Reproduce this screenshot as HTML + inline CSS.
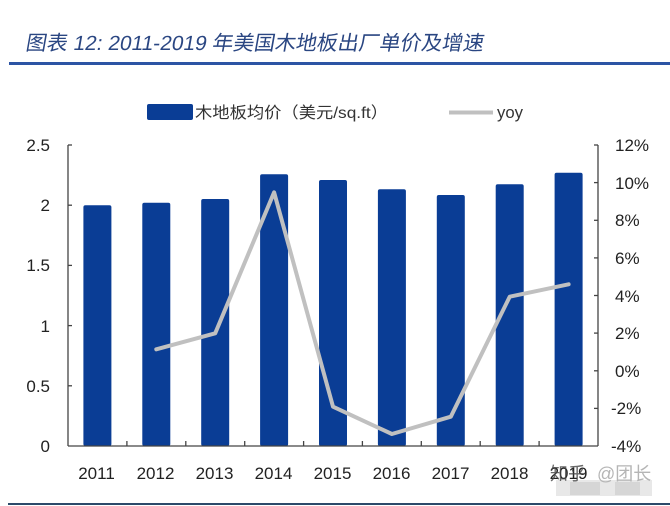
<!DOCTYPE html>
<html>
<head>
<meta charset="utf-8">
<style>
  html, body { margin: 0; padding: 0; background: #ffffff; }
  body { width: 670px; height: 506px; overflow: hidden; }
  svg { display: block; }
  .tk { font-family: "Liberation Sans", "DejaVu Sans", sans-serif; font-size: 17px; fill: #222; }
</style>
</head>
<body>
<svg width="670" height="506" viewBox="0 0 670 506" xmlns="http://www.w3.org/2000/svg">
  <rect x="0" y="0" width="670" height="506" fill="#ffffff"/>

  <!-- Title -->
  <g transform="translate(25,50) skewX(-10)">
    <text x="0" y="0" font-family="Liberation Sans, 'Noto Sans CJK SC', sans-serif" font-size="20.5" fill="#2a4682" textLength="458" lengthAdjust="spacingAndGlyphs">图表 12:  2011-2019 年美国木地板出厂单价及增速</text>
  </g>
  <rect x="9" y="62" width="661" height="3" fill="#2c54a4"/>

  <!-- Legend -->
  <rect x="147" y="104" width="46" height="16" rx="2" fill="#0a3d95"/>
  <text x="195" y="118" font-family="Liberation Sans, 'Noto Sans CJK SC', sans-serif" font-size="16" fill="#333" textLength="193" lengthAdjust="spacingAndGlyphs">木地板均价（美元/sq.ft）</text>
  <line x1="449" y1="112.5" x2="493" y2="112.5" stroke="#c0c0c0" stroke-width="4"/>
  <text x="497" y="118" font-family="Liberation Sans, sans-serif" font-size="17" fill="#333" textLength="26" lengthAdjust="spacingAndGlyphs">yoy</text>

  <!-- Bars -->
  <g fill="#0a3d95">
    <rect x="83.4"  y="205.2" width="28" height="240.8" rx="2"/>
    <rect x="142.3" y="202.7" width="28" height="243.3" rx="2"/>
    <rect x="201.2" y="199.0" width="28" height="247.0" rx="2"/>
    <rect x="260.1" y="174.3" width="28" height="271.7" rx="2"/>
    <rect x="319.0" y="180.0" width="28" height="266.0" rx="2"/>
    <rect x="377.9" y="189.3" width="28" height="256.7" rx="2"/>
    <rect x="436.8" y="195.0" width="28" height="251.0" rx="2"/>
    <rect x="495.7" y="184.3" width="28" height="261.7" rx="2"/>
    <rect x="554.6" y="172.7" width="28" height="273.3" rx="2"/>
  </g>

  <!-- Axes -->
  <g stroke="#444" stroke-width="1.3" fill="none">
    <line x1="68" y1="145" x2="68" y2="446"/>
    <line x1="598" y1="145" x2="598" y2="446"/>
    <line x1="68" y1="446" x2="598" y2="446"/>
    <line x1="68" y1="145" x2="72" y2="145"/>
    <line x1="68" y1="205.2" x2="72" y2="205.2"/>
    <line x1="68" y1="265.4" x2="72" y2="265.4"/>
    <line x1="68" y1="325.6" x2="72" y2="325.6"/>
    <line x1="68" y1="385.8" x2="72" y2="385.8"/>
    <line x1="594" y1="145" x2="598" y2="145"/>
    <line x1="594" y1="182.6" x2="598" y2="182.6"/>
    <line x1="594" y1="220.3" x2="598" y2="220.3"/>
    <line x1="594" y1="257.9" x2="598" y2="257.9"/>
    <line x1="594" y1="295.5" x2="598" y2="295.5"/>
    <line x1="594" y1="333.1" x2="598" y2="333.1"/>
    <line x1="594" y1="370.8" x2="598" y2="370.8"/>
    <line x1="594" y1="408.4" x2="598" y2="408.4"/>
    <line x1="126.9" y1="441" x2="126.9" y2="446"/>
    <line x1="185.8" y1="441" x2="185.8" y2="446"/>
    <line x1="244.7" y1="441" x2="244.7" y2="446"/>
    <line x1="303.6" y1="441" x2="303.6" y2="446"/>
    <line x1="362.4" y1="441" x2="362.4" y2="446"/>
    <line x1="421.3" y1="441" x2="421.3" y2="446"/>
    <line x1="480.2" y1="441" x2="480.2" y2="446"/>
    <line x1="539.1" y1="441" x2="539.1" y2="446"/>
  </g>

  <!-- YoY line -->
  <polyline points="156.3,349.3 215.2,333.3 274.1,192.3 333.0,406.7 391.9,434 450.8,416.7 509.7,296.7 568.6,284.3"
            fill="none" stroke="#c0c0c0" stroke-width="4" stroke-linejoin="round" stroke-linecap="round"/>

  <!-- Left labels -->
  <g class="tk" text-anchor="end">
    <text x="50" y="151">2.5</text>
    <text x="50" y="211">2</text>
    <text x="50" y="271">1.5</text>
    <text x="50" y="332">1</text>
    <text x="50" y="392">0.5</text>
    <text x="50" y="452">0</text>
  </g>

  <!-- Right labels -->
  <g class="tk" text-anchor="start">
    <text x="615" y="151">12%</text>
    <text x="615" y="189">10%</text>
    <text x="615" y="226">8%</text>
    <text x="615" y="264">6%</text>
    <text x="615" y="302">4%</text>
    <text x="615" y="339">2%</text>
    <text x="615" y="377">0%</text>
    <text x="611" y="414">-2%</text>
    <text x="611" y="452">-4%</text>
  </g>

  <!-- Category labels -->
  <g class="tk" text-anchor="middle">
    <text x="96.5" y="479">2011</text>
    <text x="155.5" y="479">2012</text>
    <text x="214.5" y="479">2013</text>
    <text x="273.5" y="479">2014</text>
    <text x="332.5" y="479">2015</text>
    <text x="391.5" y="479">2016</text>
    <text x="450.5" y="479">2017</text>
    <text x="509.5" y="479">2018</text>
    <text x="568.5" y="479">2019</text>
  </g>

  <!-- Watermark -->
  <rect x="556" y="480" width="96" height="16" fill="#e2e2e2" opacity="0.8"/>
  <rect x="570" y="482" width="30" height="13" fill="#cfcfcf" opacity="0.7"/>
  <rect x="615" y="482" width="25" height="13" fill="#cfcfcf" opacity="0.7"/>
  <text x="550" y="480" font-family="'Noto Sans CJK SC', sans-serif" font-size="18" fill="#444" opacity="0.8">知乎</text>
  <text x="597" y="480" font-family="Liberation Sans, 'Noto Sans CJK SC', sans-serif" font-size="18" fill="#b5b5b5">@团长</text>

  <!-- Bottom line -->
  <rect x="8" y="503" width="662" height="2" fill="#2c4a6a"/>
</svg>
</body>
</html>
